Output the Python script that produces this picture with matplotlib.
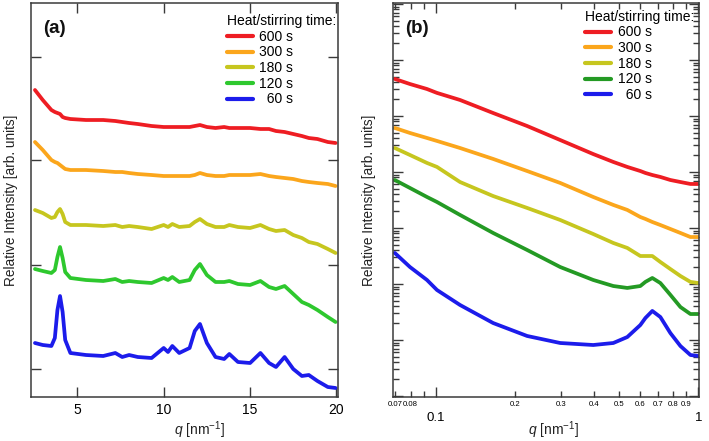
import matplotlib
matplotlib.use("Agg")
import matplotlib.pyplot as plt
from matplotlib.ticker import LogLocator, NullFormatter

plt.rcParams['font.family'] = ['Liberation Sans', 'DejaVu Sans']
plt.rcParams['mathtext.fontset'] = 'custom'
plt.rcParams['mathtext.rm'] = 'Liberation Sans'
plt.rcParams['mathtext.it'] = 'Liberation Sans:italic'

# ---------------- data ----------------
series_labels = ["600 s", "300 s", "180 s", "120 s", "  60 s"]
colors_a = ["#ee1d23", "#fba61c", "#c6c61f", "#2ec82e", "#1c1ceb"]
colors_b = ["#ee1d23", "#fba61c", "#c6c61f", "#249a24", "#1c1ceb"]

# panel (a): WAXS, linear axes (arbitrary offset units)
q_a = [2.55, 3.0, 3.5, 3.7, 3.85, 4.0, 4.15, 4.3, 4.6, 5.5, 6.5, 7.2, 7.6, 8.0,
       8.5, 9.3, 10.0, 10.25, 10.5, 10.9, 11.5, 11.8, 12.1, 12.5, 13.0, 13.5,
       13.8, 14.3, 15.0, 15.6, 16.1, 16.5, 17.0, 17.5, 18.0, 18.4, 18.9, 19.5, 19.95]
I_a_600 = [307, 297, 287, 285, 284, 283, 280, 279, 278, 277, 277, 276, 275, 274,
           273, 271, 270, 270, 270, 270, 270, 271, 272, 270, 269, 270,
           269, 269, 269, 268, 268, 266, 265, 263, 261, 259, 258, 255, 254]
I_a_300 = [255, 247, 237, 235, 234, 232, 230, 228, 227, 227, 226, 225, 225, 224,
           223, 222, 221, 221, 221, 221, 221, 222, 224, 222, 221, 221,
           222, 222, 222, 223, 221, 220, 219, 218, 216, 215, 214, 213, 211]
I_a_180 = [187, 184, 179, 180, 185, 188, 183, 175, 172, 172, 171, 172, 170, 171,
           170, 168, 172, 170, 173, 170, 171, 175, 178, 173, 170, 170,
           172, 170, 169, 172, 168, 166, 167, 162, 159, 155, 153, 148, 144]
I_a_120 = [128, 126, 124, 127, 140, 150, 139, 125, 119, 117, 116, 118, 115, 116,
           115, 114, 119, 117, 120, 115, 117, 127, 133, 122, 115, 115,
           116, 113, 112, 116, 110, 108, 111, 103, 95, 92, 87, 80, 75]
I_a_60 = [54, 52, 51, 59, 87, 101, 85, 57, 44, 42, 41, 44, 40, 42,
          40, 39, 49, 45, 51, 44, 49, 66, 73, 54, 40, 38,
          43, 35, 34, 44, 34, 30, 40, 28, 21, 22, 16, 10, 9]

# panel (b): SAXS, log-log axes
q_b = [0.0697, 0.0796, 0.0924, 0.1009, 0.1235, 0.1651, 0.2225, 0.2974, 0.3973,
       0.4739, 0.5358, 0.6006, 0.628, 0.6673, 0.7161, 0.7818, 0.8538, 0.9322, 1.0]
I_b_600 = [4.58e5, 3.72e5, 3.03e5, 2.58e5, 1.93e5, 1.13e5, 6.62e4, 3.72e4, 2.09e4,
           1.51e4, 1.23e4, 1.04e4, 9.6e3, 8.83e3, 8.15e3, 7.19e3, 6.62e3, 6.11e3, 6.11e3]
I_b_300 = [6.1e4, 4.97e4, 4.05e4, 3.58e4, 2.68e4, 1.71e4, 1.04e4, 6.37e3, 3.58e3,
           2.58e3, 2.10e3, 1.57e3, 1.45e3, 1.28e3, 1.13e3, 960, 815, 690, 690]
I_b_180 = [2.68e4, 2.01e4, 1.45e4, 1.23e4, 6.62e3, 3.72e3, 2.28e3, 1.39e3, 781,
           540, 440, 316, 316, 316, 247, 185, 139, 109, 104]
I_b_120 = [7.19e3, 5.18e3, 3.58e3, 2.91e3, 1.71e3, 815, 405, 201, 118,
           92, 85, 92, 109, 128, 104, 64, 38.8, 29.1, 29.1]
I_b_60 = [358, 201, 118, 78.1, 42.2, 20.1, 11.8, 8.84, 8.14,
          8.84, 11.3, 18.5, 24.7, 33.0, 25.7, 13.3, 7.81, 5.40, 5.18]

xticks_a = [5, 10, 15, 20]
yticks_a = [28, 132, 237, 340]
xmajor_b = [0.1, 1]
xmajor_b_labels = ["0.1", "1"]
xminor_b = [0.07, 0.08, 0.09, 0.2, 0.3, 0.4, 0.5, 0.6, 0.7, 0.8, 0.9]
xminor_b_labels = ["0.07", "0.08", "", "0.2", "0.3", "0.4", "0.5", "0.6", "0.7", "0.8", "0.9"]

# ---------------- figure ----------------
W, H = 709, 441
fig = plt.figure(figsize=(W / 100, H / 100), dpi=100)
ax_a = fig.add_axes([31 / W, (H - 397) / H, 307 / W, 394 / H])
ax_b = fig.add_axes([393 / W, (H - 397) / H, 306 / W, 394 / H])

spine_col = "#3a3a3a"
lw = 2.7

data_a = [I_a_600, I_a_300, I_a_180, I_a_120, I_a_60]
for y, c, lab in zip(data_a, colors_a, series_labels):
    ax_a.plot(q_a, y, color=c, lw=lw, label=lab, solid_joinstyle='round', solid_capstyle='round')

data_b = [I_b_600, I_b_300, I_b_180, I_b_120, I_b_60]
for y, c, lab in zip(data_b, colors_b, series_labels):
    ax_b.plot(q_b, y, color=c, lw=lw, label=lab, solid_joinstyle='round', solid_capstyle='round')

# panel (a) axes
ax_a.set_xlim(2.32, 20.09)
ax_a.set_ylim(0, 394)
ax_a.set_xticks(xticks_a)
ax_a.set_yticks(yticks_a)
ax_a.tick_params(axis='both', which='both', direction='in', top=True, right=True,
                 length=7, width=1, color=spine_col, labelsize=10, pad=4)
ax_a.tick_params(axis='y', labelleft=False)

# panel (b) axes
ax_b.set_xscale('log')
ax_b.set_yscale('log')
ax_b.set_xlim(0.0686, 1.005)
ax_b.set_ylim(0.96, 1.04e7)
ax_b.set_xticks(xmajor_b)
ax_b.set_xticklabels(xmajor_b_labels)
ax_b.set_xticks(xminor_b, minor=True)
ax_b.set_xticklabels(xminor_b_labels, minor=True)
ax_b.yaxis.set_major_locator(LogLocator(base=10, numticks=20))
ax_b.yaxis.set_minor_locator(LogLocator(base=10, subs=range(2, 10), numticks=20))
ax_b.yaxis.set_minor_formatter(NullFormatter())
ax_b.tick_params(axis='both', which='both', direction='in', top=True, right=True,
                 color=spine_col, width=1)
ax_b.tick_params(axis='both', which='major', length=7)
ax_b.tick_params(axis='both', which='minor', length=4)
ax_b.tick_params(axis='x', which='major', labelsize=9.5, pad=11)
ax_b.tick_params(axis='x', which='minor', labelsize=5.6, pad=3)
ax_b.tick_params(axis='y', which='both', labelleft=False)

setup = [(ax_a, "(a)", -0.042, 0.55, (1.02, 0.993)),
         (ax_b, "(b)", -0.054, 0.523, (1.012, 1.004))]
for ax, tag, ylx, xlx, anchor in setup:
    for s in ax.spines.values():
        s.set_color(spine_col)
        s.set_linewidth(1.1)
    ax.set_ylabel("Relative Intensity [arb. units]", fontsize=9.8, color="#222222")
    ax.yaxis.set_label_coords(ylx, 0.5)
    ax.set_xlabel(r"$q$ [nm$^{-1}$]", fontsize=10, color="#222222")
    ax.xaxis.set_label_coords(xlx, -0.058)
    ax.text(0.039, 0.935, tag, transform=ax.transAxes, fontsize=13.5, fontweight='bold',
            color="#111111", ha='left', va='center')
    leg = ax.legend(title="Heat/stirring time:", loc="upper right", frameon=False,
                    fontsize=10, title_fontsize=10, handlelength=1.9, handletextpad=0.45,
                    labelspacing=0.12, borderaxespad=0.2, alignment='left',
                    bbox_to_anchor=anchor)
    for ln in leg.get_lines():
        ln.set_linewidth(3)

fig.savefig("out.png", dpi=100)
